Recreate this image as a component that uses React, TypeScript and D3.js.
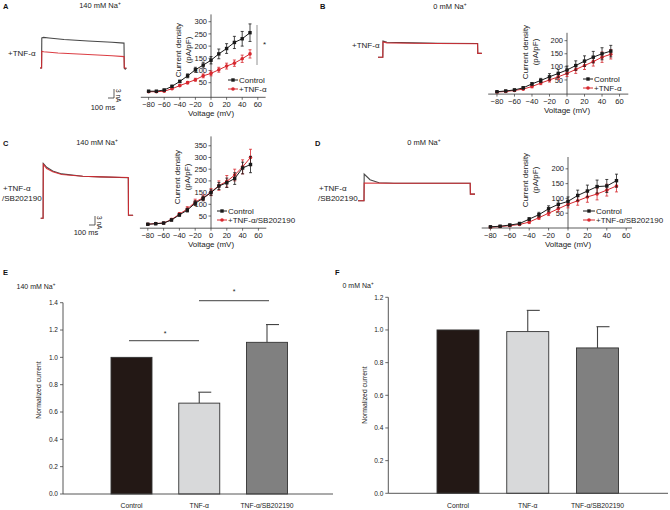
import React from "react";
import * as d3 from "d3";

// ---------- data ----------
const voltages = [-80, -70, -60, -50, -40, -30, -20, -10, 0, 10, 20, 30, 40, 50];
const ivXTicks = [-80, -60, -40, -20, 0, 20, 40, 60];

const aControl = [15, 15, 20, 35, 55, 78, 103, 122, 142, 168, 190, 215, 230, 255];
const aControlErr = [3, 3, 3, 4, 5, 8, 10, 12, 15, 20, 20, 25, 30, 36];
const aTnf = [13, 13, 15, 25, 38, 50, 62, 78, 88, 103, 118, 130, 148, 168];
const aTnfErr = [2, 2, 2, 3, 4, 5, 6, 8, 10, 10, 12, 13, 15, 17];

const bControl = [5, 8, 12, 20, 35, 48, 62, 75, 88, 105, 122, 137, 150, 160];
const bControlErr = [2, 2, 3, 4, 5, 8, 12, 15, 15, 18, 20, 22, 23, 22];
const bTnf = [4, 6, 10, 15, 25, 38, 50, 62, 75, 90, 105, 120, 137, 148];
const bTnfErr = [2, 2, 3, 3, 5, 6, 8, 10, 12, 15, 15, 17, 20, 18];

const cControl = [15, 17, 20, 33, 55, 75, 105, 125, 150, 178, 192, 210, 255, 270];
const cControlErr = [3, 3, 3, 4, 6, 8, 10, 10, 12, 15, 20, 25, 25, 35];
const cSb = [15, 18, 20, 35, 58, 80, 110, 128, 152, 180, 198, 225, 260, 300];
const cSbErr = [3, 3, 3, 5, 7, 10, 12, 12, 15, 20, 25, 25, 30, 35];

const dControl = [4, 6, 10, 15, 30, 45, 65, 80, 90, 110, 125, 140, 142, 160];
const dControlErr = [2, 2, 3, 4, 5, 8, 10, 12, 15, 18, 20, 22, 22, 22];
const dSb = [3, 5, 8, 12, 20, 35, 50, 65, 80, 92, 105, 115, 128, 142];
const dSbErr = [2, 2, 3, 3, 5, 6, 8, 10, 12, 15, 18, 20, 20, 20];

// current traces: [time ms, current nA]
const traceAControl = [[0, 0], [26, 0], [30, 10], [60, 10.2], [150, 10], [400, 9.5], [800, 9], [1200, 8.6], [1400, 8.3], [1405, 0], [1420, -0.4], [1440, 0]];
const traceATnf = [[0, 0], [26, 0], [30, 5.6], [60, 5.4], [300, 5.0], [800, 4.5], [1200, 4.1], [1400, 3.8], [1405, 0], [1440, 0]];
const traceBControl = [[0, 0], [80, 0], [83, 5.4], [150, 5.0], [600, 4.8], [1000, 4.7], [1660, 4.6], [1663, 1.3], [1730, 1.3]];
const traceBTnf = [[0, 0], [80, 0], [83, 5.1], [150, 4.8], [600, 4.7], [1000, 4.6], [1660, 4.5], [1663, 1.3], [1730, 1.3]];
const traceCControl = [[0, 0], [40, 0], [43, 18.3], [100, 17], [200, 15.8], [350, 14.8], [700, 14], [1000, 13.8], [1460, 13.5], [1463, 1], [1540, 1]];
const traceCSb = [[0, 0], [40, 0], [43, 18], [100, 16.6], [200, 15.5], [350, 14.6], [700, 14], [1000, 13.8], [1460, 13.6], [1463, 1], [1540, 1]];
const traceDControl = [[0, 0], [100, 0], [103, 8.9], [200, 7], [350, 6], [600, 5.8], [1870, 5.8], [1873, 2.2], [1950, 2.2]];
const traceDSb = [[0, 0], [100, 0], [103, 5.9], [600, 5.8], [1870, 5.8], [1873, 2.2], [1950, 2.2]];

const barCats = ["Control", "TNF-α", "TNF-α/SB202190"];
const eValues = [1.0, 0.665, 1.11];
const eErr = [0, 0.08, 0.13];
const fValues = [1.0, 0.99, 0.89];
const fErr = [0, 0.13, 0.13];
const eTicks = [0, 0.2, 0.4, 0.6, 0.8, 1.0, 1.2, 1.4];
const fTicks = [0, 0.2, 0.4, 0.6, 0.8, 1.0, 1.2];

// ---------- styles ----------
const FONT = "'Liberation Sans', Arial, sans-serif";
const RED = "#d7282f";
const BLK = "#1a1a1a";
const barFills = ["#231815", "#d8d9da", "#808080"];

function Na({ x, y, text, size = 7.5 }: any) {
  return (
    <text x={x} y={y} fontSize={size} fontFamily={FONT} fill="#222" textAnchor="middle">
      {text}
      <tspan fontSize={size * 0.65} dy={-3}>+</tspan>
    </text>
  );
}

function Trace({ ox, base, series, colors }: any) {
  const x = d3.scaleLinear().domain([0, 100]).range([ox, ox + 6]);
  const y = d3.scaleLinear().domain([0, 3]).range([base, base - 9]);
  const line = d3.line<number[]>().x((d) => x(d[0])).y((d) => y(d[1]));
  return (
    <g>
      {series.map((s: number[][], i: number) => (
        <path key={i} d={line(s) || ""} fill="none" stroke={colors[i]} strokeWidth={1.1} opacity={0.9} />
      ))}
    </g>
  );
}

function IVPanel({ cfg }: any) {
  const x = d3.scaleLinear().domain(cfg.xDom).range(cfg.xRange);
  const y = d3.scaleLinear().domain(cfg.yDom).range(cfg.yRange);
  const line = d3.line<number>().x((_, i) => x(voltages[i])).y((d) => y(d));
  const y0 = y(cfg.yDom[0]);
  const x0 = x(0);
  const ser = [
    { v: cfg.s2, e: cfg.e2, c: RED, shape: "c" },
    { v: cfg.s1, e: cfg.e1, c: BLK, shape: "s" },
  ];
  return (
    <g fontFamily={FONT}>
      <line x1={cfg.xRange[0]} x2={cfg.xRange[1]} y1={y0} y2={y0} stroke="#333" strokeWidth={0.8} />
      <line x1={x0} x2={x0} y1={y0} y2={cfg.yRange[1]} stroke="#333" strokeWidth={0.8} />
      {ivXTicks.map((t) => (
        <g key={t}>
          <line x1={x(t)} x2={x(t)} y1={y0} y2={y0 + 2.5} stroke="#333" strokeWidth={0.7} />
          <text x={x(t)} y={y0 + 9.5} fontSize={7.5} textAnchor="middle" fill="#222">
            {t < 0 ? "−" + Math.abs(t) : t}
          </text>
        </g>
      ))}
      {cfg.yTicks.map((t: number) => (
        <g key={t}>
          <line x1={x0 - 2.5} x2={x0} y1={y(t)} y2={y(t)} stroke="#333" strokeWidth={0.7} />
          <text x={x0 - 4} y={y(t) + 2.6} fontSize={7.5} textAnchor="end" fill="#222">
            {t}
          </text>
        </g>
      ))}
      <text x={x0} y={y0 + 18.5} fontSize={8} textAnchor="middle" fill="#222">
        Voltage (mV)
      </text>
      <g transform={`translate(${cfg.ylx},${cfg.ylc}) rotate(-90)`}>
        <text x={0} y={0} fontSize={8} textAnchor="middle" fill="#222">Current density</text>
        <text x={0} y={10} fontSize={8} textAnchor="middle" fill="#222">(pA/pF)</text>
      </g>
      {ser.map((s, k) => (
        <g key={k}>
          <path d={line(s.v) || ""} fill="none" stroke={s.c} strokeWidth={1} />
          {s.v.map((v: number, i: number) => {
            const cx = x(voltages[i]);
            return (
              <g key={i}>
                <line x1={cx} x2={cx} y1={y(v - s.e[i])} y2={y(v + s.e[i])} stroke={s.c} strokeWidth={0.8} />
                <line x1={cx - 1.5} x2={cx + 1.5} y1={y(v - s.e[i])} y2={y(v - s.e[i])} stroke={s.c} strokeWidth={0.8} />
                <line x1={cx - 1.5} x2={cx + 1.5} y1={y(v + s.e[i])} y2={y(v + s.e[i])} stroke={s.c} strokeWidth={0.8} />
                {s.shape === "s" ? (
                  <rect x={cx - 1.7} y={y(v) - 1.7} width={3.4} height={3.4} fill={s.c} />
                ) : (
                  <circle cx={cx} cy={y(v)} r={1.8} fill={s.c} />
                )}
              </g>
            );
          })}
        </g>
      ))}
      {[
        { lab: "Control", c: BLK, s: "s" },
        { lab: cfg.lab2, c: RED, s: "c" },
      ].map((l, i) => {
        const ly = cfg.legY + i * 9;
        const mx = (cfg.legX1 + cfg.legX2) / 2;
        return (
          <g key={i}>
            <line x1={cfg.legX1} x2={cfg.legX2} y1={ly} y2={ly} stroke={l.c} strokeWidth={1} />
            {l.s === "s" ? (
              <rect x={mx - 1.7} y={ly - 1.7} width={3.4} height={3.4} fill={l.c} />
            ) : (
              <circle cx={mx} cy={ly} r={1.8} fill={l.c} />
            )}
            <text x={cfg.legX2 + 1} y={ly + 3} fontSize={8} fill="#222">{l.lab}</text>
          </g>
        );
      })}
    </g>
  );
}

function BarPanel({ cfg }: any) {
  const y = d3.scaleLinear().domain([0, cfg.ticks[cfg.ticks.length - 1]]).range(cfg.yRange);
  const x = d3.scalePoint<string>().domain(barCats).range(cfg.xCenters);
  const w = cfg.barW;
  const ax = cfg.axisX;
  return (
    <g fontFamily={FONT}>
      {cfg.values.map((v: number, i: number) => {
        const cx = x(barCats[i]) as number;
        const e = cfg.err[i];
        return (
          <g key={i}>
            {e > 0 && (
              <g>
                <line x1={cx} x2={cx} y1={y(v)} y2={y(v + e)} stroke="#444" strokeWidth={1.1} />
                <line x1={cx - 1} x2={cx + 12} y1={y(v + e)} y2={y(v + e)} stroke="#444" strokeWidth={1.1} />
              </g>
            )}
            <rect x={cx - w / 2} y={y(v)} width={w} height={y(0) - y(v)} fill={barFills[i]} stroke="#333" strokeWidth={0.9} />
            <text x={cx} y={cfg.labY} fontSize={6.8} textAnchor="middle" fill="#222">{barCats[i]}</text>
          </g>
        );
      })}
      <line x1={ax} x2={ax} y1={y(0)} y2={cfg.yRange[1]} stroke="#444" strokeWidth={0.9} />
      <line x1={ax} x2={cfg.xEnd} y1={y(0)} y2={y(0)} stroke="#444" strokeWidth={0.9} />
      {cfg.ticks.map((t: number) => (
        <g key={t}>
          <line x1={ax - 3} x2={ax} y1={y(t)} y2={y(t)} stroke="#444" strokeWidth={0.8} />
          <text x={ax - 5} y={y(t) + 2.3} fontSize={6.5} textAnchor="end" fill="#222">{t.toFixed(1)}</text>
        </g>
      ))}
      <text transform={`translate(${cfg.ylx},${cfg.ylc}) rotate(-90)`} fontSize={6.8} textAnchor="middle" fill="#222">
        Normalized current
      </text>
    </g>
  );
}

export default function App() {
  const ivA = {
    xDom: [-90, 70], xRange: [140.8, 265.6], yDom: [-10, 330], yRange: [97.3, 14.4],
    yTicks: [50, 100, 150, 200, 250, 300], s1: aControl, e1: aControlErr, s2: aTnf, e2: aTnfErr,
    lab2: "+TNF-α", legX1: 228, legX2: 238, legY: 80, ylx: 181, ylc: 50,
  };
  const ivB = {
    xDom: [-90, 70], xRange: [488.2, 628.3], yDom: [-4, 230], yRange: [94.1, 32.8],
    yTicks: [50, 100, 150, 200], s1: bControl, e1: bControlErr, s2: bTnf, e2: bTnfErr,
    lab2: "+TNF-α", legX1: 583, legX2: 593, legY: 79, ylx: 528, ylc: 52,
  };
  const ivC = {
    xDom: [-90, 70], xRange: [139.9, 266.3], yDom: [-2, 390], yRange: [228.2, 136.4],
    yTicks: [50, 100, 150, 200, 250, 300, 350], s1: cControl, e1: cControlErr, s2: cSb, e2: cSbErr,
    lab2: "+TNF-α/SB202190", legX1: 217, legX2: 227, legY: 211, ylx: 180, ylc: 177,
  };
  const ivD = {
    xDom: [-89, 66], xRange: [481.7, 632], yDom: [0, 240], yRange: [228, 157],
    yTicks: [50, 100, 150, 200], s1: dControl, e1: dControlErr, s2: dSb, e2: dSbErr,
    lab2: "+TNF-α/SB202190", legX1: 583, legX2: 595, legY: 211, ylx: 528, ylc: 180,
  };
  const barE = {
    values: eValues, err: eErr, ticks: eTicks, yRange: [494, 302.7], xCenters: [131.5, 267],
    barW: 41, axisX: 63, xEnd: 333, labY: 508, ylx: 41, ylc: 390,
  };
  const barF = {
    values: fValues, err: fErr, ticks: fTicks, yRange: [493.3, 297.3], xCenters: [458, 597.5],
    barW: 42, axisX: 388.3, xEnd: 668, labY: 508, ylx: 367, ylc: 395,
  };
  const txt = { fontFamily: FONT, fill: "#222" } as any;
  const lbl = { fontFamily: FONT, fontWeight: "bold", fontSize: 7.5, fill: "#111" } as any;

  return (
    <svg width={670} height={510} style={{ position: "absolute", left: 0, top: 0, background: "#fff" }}>
      <text x={3} y={9} {...lbl}>A</text>
      <text x={320} y={9} {...lbl}>B</text>
      <text x={3} y={146} {...lbl}>C</text>
      <text x={315} y={146} {...lbl}>D</text>
      <text x={3} y={275} {...lbl}>E</text>
      <text x={335} y={275} {...lbl}>F</text>

      <Na x={100} y={8} text="140 mM Na" />
      <Na x={450} y={9} text="0 mM Na" />
      <Na x={97} y={145} text="140 mM Na" />
      <Na x={424} y={145} text="0 mM Na" />
      <Na x={36} y={289} text="140 mM Na" size={7} />
      <Na x={358} y={288} text="0 mM Na" size={7} />

      <Trace ox={40} base={68} series={[traceAControl, traceATnf]} colors={["#333", RED]} />
      <text x={8} y={56} fontSize={8} {...txt}>+TNF-α</text>
      <Trace ox={378} base={57.3} series={[traceBControl, traceBTnf]} colors={["#333", RED]} />
      <text x={352} y={48} fontSize={8} {...txt}>+TNF-α</text>
      <Trace ox={40.7} base={218.3} series={[traceCControl, traceCSb]} colors={["#333", RED]} />
      <text x={3} y={191} fontSize={8} {...txt}>+TNF-α</text>
      <text x={2} y={201} fontSize={8} {...txt}>/SB202190</text>
      <Trace ox={358} base={200.7} series={[traceDControl, traceDSb]} colors={["#333", RED]} />
      <text x={319} y={191} fontSize={8} {...txt}>+TNF-α</text>
      <text x={318} y={201} fontSize={8} {...txt}>/SB202190</text>

      <g stroke="#333" strokeWidth={0.8}>
        <line x1={108} x2={114} y1={98} y2={98} />
        <line x1={114} x2={114} y1={89} y2={98} />
        <line x1={89} x2={95} y1={225} y2={225} />
        <line x1={95} x2={95} y1={216} y2={225} />
      </g>
      <text transform="translate(116,89) rotate(90)" fontSize={6.5} {...txt}>3 nA</text>
      <text x={103} y={110} fontSize={7.5} textAnchor="middle" {...txt}>100 ms</text>
      <text transform="translate(97,216) rotate(90)" fontSize={6.5} {...txt}>3 nA</text>
      <text x={86} y={235} fontSize={7.5} textAnchor="middle" {...txt}>100 ms</text>

      <IVPanel cfg={ivA} />
      <IVPanel cfg={ivB} />
      <IVPanel cfg={ivC} />
      <IVPanel cfg={ivD} />

      <line x1={257} x2={257} y1={25} y2={65} stroke="#777" strokeWidth={0.8} />
      <text x={263} y={47} fontSize={8} {...txt}>*</text>

      <BarPanel cfg={barE} />
      <BarPanel cfg={barF} />

      <g stroke="#666" strokeWidth={1.3}>
        <line x1={129} x2={199} y1={340.7} y2={340.7} />
        <line x1={199} x2={269} y1={300.7} y2={300.7} />
      </g>
      <text x={165} y={336} fontSize={7} textAnchor="middle" {...txt}>*</text>
      <text x={234} y={294} fontSize={7} textAnchor="middle" {...txt}>*</text>
    </svg>
  );
}
